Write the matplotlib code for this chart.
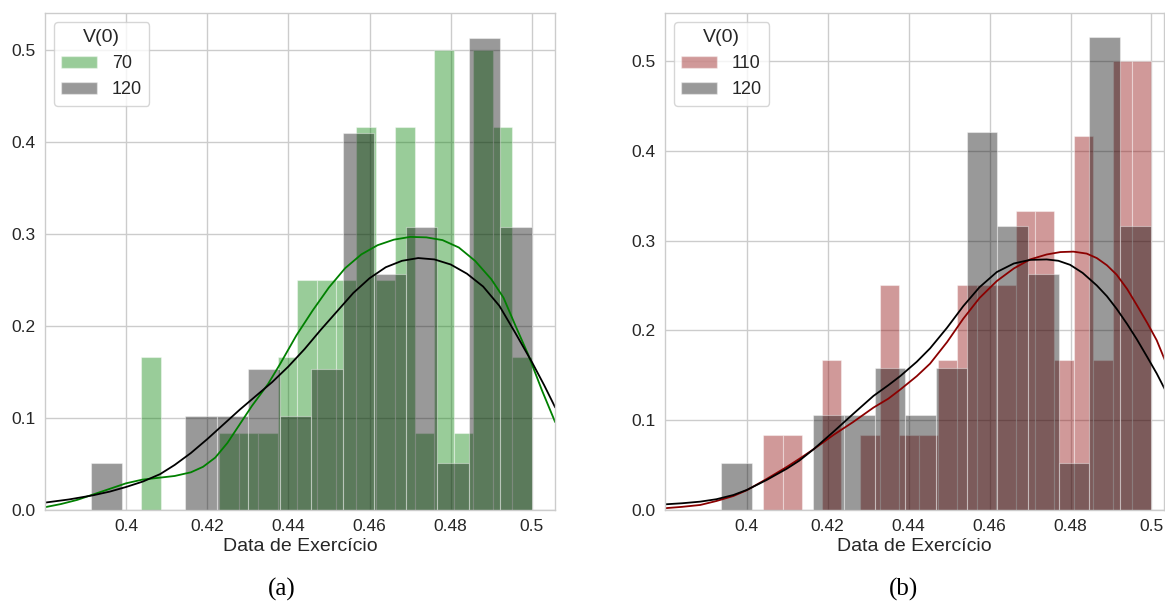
import numpy as np
import matplotlib
matplotlib.use("Agg")
import matplotlib.pyplot as plt
from matplotlib.patches import Patch

# ---------------- data ----------------
xticks = [0.40, 0.42, 0.44, 0.46, 0.48, 0.50]
xtick_labels = ["0.4", "0.42", "0.44", "0.46", "0.48", "0.5"]
yticks = [0.0, 0.1, 0.2, 0.3, 0.4, 0.5]
ytick_labels = ["0.0", "0.1", "0.2", "0.3", "0.4", "0.5"]
xlabel = "Data de Exercício"
legend_title = "V(0)"

# panel (a): V(0)=70 (green) vs V(0)=120 (black)
a_lab1, a_lab2 = "70", "120"
a_h1_range = (0.4037, 0.5000)
a_h1 = [0.1667, 0, 0, 0, 0.0833, 0.0833, 0.0833, 0.1667, 0.25, 0.25,
        0.25, 0.4167, 0.25, 0.4167, 0.0833, 0.5, 0.0833, 0.5, 0.4167, 0.1667]
a_h2_range = (0.3913, 0.5000)
a_h2 = [0.0513, 0, 0, 0.1026, 0.1026, 0.1538, 0.1026, 0.1538, 0.4103, 0.2564,
        0.3077, 0.0513, 0.5128, 0.3077]
a_k1_x = [0.3800, 0.3840, 0.3880, 0.3920, 0.3960, 0.4000, 0.4040, 0.4080, 0.4120,
          0.4160, 0.4190, 0.4220, 0.4250, 0.4280, 0.4310, 0.4350, 0.4380, 0.4420,
          0.4460, 0.4500, 0.4540, 0.4580, 0.4620, 0.4660, 0.4700, 0.4740, 0.4780,
          0.4820, 0.4860, 0.4900, 0.4930, 0.4960, 0.4990, 0.5025, 0.5057]
a_k1_y = [0.003, 0.0065, 0.011, 0.017, 0.023, 0.029, 0.033, 0.035, 0.037,
          0.041, 0.047, 0.057, 0.073, 0.093, 0.113, 0.137, 0.159, 0.190,
          0.217, 0.242, 0.263, 0.278, 0.288, 0.294, 0.297, 0.2965, 0.2935,
          0.2855, 0.271, 0.251, 0.231, 0.200, 0.170, 0.130, 0.096]
a_k2_x = [0.3800, 0.3860, 0.3919, 0.3960, 0.4000, 0.4042, 0.4084, 0.4120, 0.4160,
          0.4200, 0.4240, 0.4280, 0.4320, 0.4360, 0.4400, 0.4440, 0.4480, 0.4520,
          0.4560, 0.4600, 0.4640, 0.4680, 0.4720, 0.4760, 0.4800, 0.4840, 0.4880,
          0.4920, 0.4960, 0.5000, 0.5030, 0.5057]
a_k2_y = [0.008, 0.0115, 0.016, 0.020, 0.025, 0.031, 0.039, 0.049, 0.062,
          0.077, 0.093, 0.109, 0.124, 0.139, 0.156, 0.175, 0.196, 0.216,
          0.236, 0.252, 0.264, 0.271, 0.274, 0.2725, 0.267, 0.257, 0.243,
          0.222, 0.192, 0.161, 0.136, 0.112]

# panel (b): V(0)=110 (dark red) vs V(0)=120 (black)
b_lab1, b_lab2 = "110", "120"
b_h1_range = (0.4041, 0.5000)
b_h1 = [0.0833, 0.0833, 0, 0.1667, 0, 0.0833, 0.25, 0.0833, 0.0833, 0.1667,
        0.25, 0.25, 0.25, 0.3333, 0.3333, 0.1667, 0.4167, 0.1667, 0.5, 0.5]
b_h2_range = (0.3937, 0.4998)
b_h2 = [0.0526, 0, 0, 0.1053, 0.1053, 0.1579, 0.1053, 0.1579, 0.4211, 0.3158,
        0.2632, 0.0526, 0.5263, 0.3158]
b_k1_x = [0.3798, 0.3840, 0.3885, 0.3925, 0.3967, 0.4000, 0.4049, 0.4099, 0.4130,
          0.4165, 0.4214, 0.4263, 0.4313, 0.4350, 0.4379, 0.4420, 0.4453, 0.4495,
          0.4535, 0.4575, 0.4618, 0.4660, 0.4700, 0.4741, 0.4775, 0.4807, 0.4840,
          0.4865, 0.4890, 0.4914, 0.4940, 0.4964, 0.4990, 0.5013, 0.5034]
b_k1_y = [0.002, 0.0035, 0.0056, 0.010, 0.0156, 0.022, 0.0345, 0.048, 0.057,
          0.0676, 0.0835, 0.098, 0.114, 0.124, 0.134, 0.149, 0.163, 0.187,
          0.213, 0.236, 0.255, 0.269, 0.279, 0.2845, 0.2872, 0.2877, 0.2855, 0.2805,
          0.2725, 0.262, 0.246, 0.228, 0.208, 0.189, 0.166]
b_k2_x = [0.3798, 0.3840, 0.3885, 0.3925, 0.3967, 0.4000, 0.4049, 0.4099, 0.4130,
          0.4165, 0.4214, 0.4263, 0.4313, 0.4350, 0.4379, 0.4420, 0.4453, 0.4495,
          0.4535, 0.4575, 0.4618, 0.4660, 0.4700, 0.4741, 0.4770, 0.4799, 0.4830,
          0.4865, 0.4890, 0.4914, 0.4940, 0.4964, 0.4990, 0.5013, 0.5034]
b_k2_y = [0.0063, 0.0075, 0.0093, 0.012, 0.0167, 0.0223, 0.0334, 0.046, 0.055,
          0.0676, 0.087, 0.107, 0.127, 0.139, 0.149, 0.165, 0.180, 0.203,
          0.227, 0.248, 0.265, 0.2745, 0.2785, 0.279, 0.2775, 0.273, 0.264,
          0.250, 0.238, 0.224, 0.207, 0.190, 0.170, 0.152, 0.1336]

# ---------------- style ----------------
plt.rcParams['font.family'] = ['Liberation Sans', 'DejaVu Sans']
GRID = '#cccccc'
TXT = '#262626'

fig = plt.figure(figsize=(11.65, 6.01), dpi=100)
W, H = 1165.0, 601.0
ax_a = fig.add_axes([45 / W, 91 / H, 510 / W, 497 / H])
ax_b = fig.add_axes([665 / W, 91 / H, 499 / W, 497 / H])


def hist(ax, rng, heights, color):
    n = len(heights)
    edges = np.linspace(rng[0], rng[1], n + 1)
    ax.bar(edges[:-1], heights, width=np.diff(edges), align='edge',
           color=color, alpha=0.4, edgecolor='white', linewidth=0.8)


def panel(ax, r1, h1, c1, r2, h2, k1x, k1y, k2x, k2y, lab1, lab2, xlim, ylim):
    ax.set_facecolor('white')
    ax.set_axisbelow(True)
    ax.grid(True, color=GRID, linewidth=1.0)
    for s in ax.spines.values():
        s.set_color(GRID)
        s.set_linewidth(1.0)
    hist(ax, r1, h1, c1)
    hist(ax, r2, h2, 'black')
    ax.plot(k1x, k1y, color=c1, linewidth=1.3)
    ax.plot(k2x, k2y, color='black', linewidth=1.3)
    ax.set_xlim(*xlim)
    ax.set_ylim(*ylim)
    ax.set_xticks(xticks, xtick_labels)
    ax.set_yticks(yticks, ytick_labels)
    ax.tick_params(length=0, labelsize=12.5, colors=TXT, pad=6.5)
    ax.set_xlabel(xlabel, fontsize=14, color=TXT, labelpad=3)
    handles = [Patch(facecolor=c1, alpha=0.4, edgecolor='white'),
               Patch(facecolor='black', alpha=0.4, edgecolor='white')]
    leg = ax.legend(handles, [lab1, lab2], title=legend_title, loc='upper left',
                    fontsize=13, title_fontsize=14, frameon=True,
                    borderaxespad=0.5, handlelength=2.0)
    leg.get_frame().set_edgecolor(GRID)
    leg.get_frame().set_alpha(0.8)
    for t in leg.get_texts():
        t.set_color(TXT)
    leg.get_title().set_color(TXT)


panel(ax_a, a_h1_range, a_h1, 'green', a_h2_range, a_h2,
      a_k1_x, a_k1_y, a_k2_x, a_k2_y, a_lab1, a_lab2,
      (0.38005, 0.5057), (0, 0.5405))
panel(ax_b, b_h1_range, b_h1, 'darkred', b_h2_range, b_h2,
      b_k1_x, b_k1_y, b_k2_x, b_k2_y, b_lab1, b_lab2,
      (0.3798, 0.5031), (0, 0.5534))

fig.text(282 / W, 1 - 589 / H, "(a)", family=['Liberation Serif', 'DejaVu Serif'],
         fontsize=18, ha='center', va='center', color='black')
fig.text(903 / W, 1 - 589 / H, "(b)", family=['Liberation Serif', 'DejaVu Serif'],
         fontsize=18, ha='center', va='center', color='black')

fig.savefig("out.png", dpi=100, facecolor='white')
